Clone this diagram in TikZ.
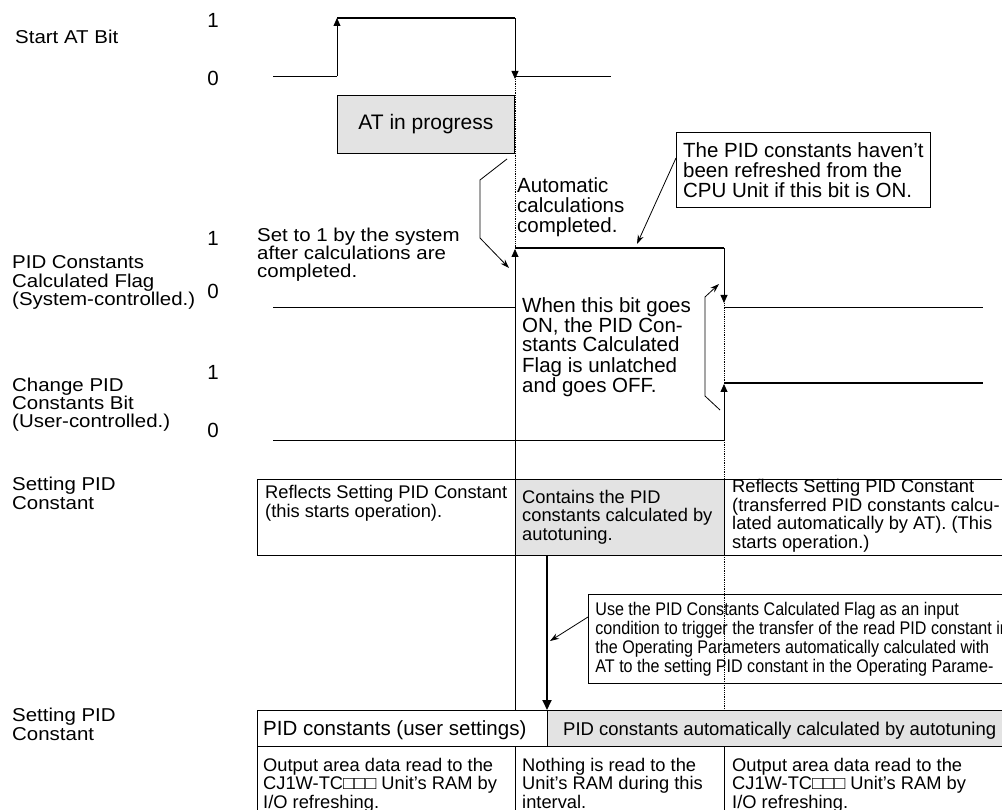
\documentclass[tikz,border=0pt]{standalone}
\usepackage{fontspec}
\setmainfont{Liberation Sans}
\newfontfamily\narrowfont[FakeStretch=0.88]{Liberation Sans}
\newfontfamily\widefont[FakeStretch=1.1]{Liberation Sans}
\usetikzlibrary{arrows.meta}

\begin{document}
\begin{tikzpicture}[x=1pt,y=-1pt,
        lbl/.style={anchor=base west,inner sep=0pt,align=left,font=\fontsize{20.5}{20}\selectfont},
        side/.style={anchor=base west,inner sep=0pt,align=left,font=\widefont\fontsize{18.6}{18.3}\selectfont},
        lvl/.style={anchor=base,inner sep=0pt,font=\fontsize{20.5}{20}\selectfont},
        celltxt/.style={anchor=base west,inner sep=0pt,align=left,font=\fontsize{18.3}{18.5}\selectfont},
        cell/.style={draw,line width=0.8pt},
        busy/.style={fill=black!11},
        sig/.style={line width=0.8pt},
        hi/.style={line width=1.6pt},
        edge/.style={line width=0.8pt,-{Triangle[length=8pt,width=7pt]}},
        note/.style={line width=0.8pt,-{Stealth[length=9pt,width=6pt]}},
        dots/.style={line width=0.8pt,densely dotted}]
    \useasboundingbox (0,0) rectangle (1002,810);

    % setting PID constant cells
    \draw[cell] (257,479) rectangle (515,555);
    \draw[cell,busy] (515,479) rectangle (724,555);
    \draw[cell] (724,479) rectangle (1010,555);
    \draw[cell] (257,710) rectangle (547,746);
    \draw[cell,busy] (547,710) rectangle (1010,746);
    \draw[cell] (257,746) rectangle (515,830);
    \draw[cell] (515,746) rectangle (724,830);
    \draw[cell] (724,746) rectangle (1010,830);

    % signal names and levels (multi-line texts sit on their last line)
    \node[side] (startat) at (15,44) {Start AT Bit};
    \node[side] (calcflag) at (12,305.5) {PID Constants\\Calculated Flag\\(System-controlled.)};
    \node[side] (changebit) at (12,428) {Change PID\\Constants Bit\\(User-controlled.)};
    \node[side] (setpid) at (12,509) {Setting PID\\Constant};
    \node[side] (setpidram) at (12,740) {Setting PID\\Constant};
    \node[lvl] (startone) at (213,28) {1};
    \node[lvl] (startzero) at (213,86) {0};
    \node[lvl] (flagone) at (213,246) {1};
    \node[lvl] (flagzero) at (213,299) {0};
    \node[lvl] (changeone) at (213,380) {1};
    \node[lvl] (changezero) at (213,437) {0};

    % Start AT Bit
    \draw[sig] (273,76) -- (337,76);
    \draw[edge] (337,76) -- (337,18);
    \draw[hi] (337,18) -- (515,18);
    \draw[edge] (515,18) -- (515,79);
    \draw[sig] (515,76) -- (611,76);
    \node[cell,busy,anchor=north west,minimum width=177pt,minimum height=58pt,font=\fontsize{21}{21}\selectfont] (atprog) at (337,95) {AT in progress};
    \draw[dots] (515,79) -- (515,248);

    % PID Constants Calculated Flag
    \draw[sig] (273,307) -- (515,307);
    \draw[sig] (515,710) -- (515,300);
    \draw[edge] (515,300) -- (515,249);
    \draw[hi] (515,248) -- (724,248);
    \draw[edge] (724,248) -- (724,303);
    \draw[sig] (724,307) -- (983,307);
    \draw[dots] (724,303) -- (724,383);

    % Change PID Constants Bit
    \draw[sig] (273,440) -- (724,440);
    \draw[edge] (724,440) -- (724,384);
    \draw[hi] (724,383) -- (983,383);
    \draw[dots] (724,440) -- (724,710);

    % notes
    \node[side] (setone) at (257,278) {Set to 1 by the system\\after calculations are\\completed.};
    \node[lbl] (autodone) at (517,233) {Automatic\\calculations\\completed.};
    \node[lbl] (unlatch) at (522,392) {When this bit goes\\ON, the PID Con-\\stants Calculated\\Flag is unlatched\\and goes OFF.};
    \draw[note] (507,159) -- (480,180) -- (480,238) -- (509,268);
    \draw[note] (720,410) -- (705,396) -- (705,297) -- (719,284);

    \node[draw,line width=0.8pt,anchor=north west,minimum width=254pt,minimum height=75pt,inner sep=3pt,align=left,font=\fontsize{20.5}{20}\selectfont] (norefresh) at (676,132) {The PID constants haven't\\been refreshed from the\\CPU Unit if this bit is ON.};
    \coordinate (flagtop) at (637,244);
    \draw[note] ([yshift=-26pt]norefresh.north west) -- (flagtop);

    % cell texts
    \node[celltxt] (reflect) at (265,517) {Reflects Setting PID Constant\\(this starts operation).};
    \node[celltxt] (contains) at (522,540) {Contains the PID\\constants calculated by\\autotuning.};
    \node[celltxt] (reflectat) at (732,548) {Reflects Setting PID Constant\\(transferred PID constants calcu-\\lated automatically by AT). (This\\starts operation.)};

    \draw[line width=1.8pt,-{Triangle[length=10pt,width=9pt]}] (547,555) -- (547,710);
    \node[draw,line width=0.8pt,anchor=north west,minimum height=89pt,inner xsep=7pt,align=left,font=\narrowfont\fontsize{18.3}{19}\selectfont] (trigger) at (588,594) {Use the PID Constants Calculated Flag as an input\\condition to trigger the transfer of the read PID constant in\\the Operating Parameters automatically calculated with\\AT to the setting PID constant in the Operating Parame-};
    \coordinate (pidarrow) at (550,641);
    \draw[note] ([yshift=-23pt]trigger.north west) -- (pidarrow);

    \node[lbl] (usr) at (263,735) {PID constants (user settings)};
    \node[celltxt,font=\fontsize{18.5}{18.5}\selectfont] (autoset) at (563,735) {PID constants automatically calculated by autotuning};
    \node[celltxt] (readio) at (263,808) {Output area data read to the\\CJ1W-TC□□□ Unit's RAM by\\I/O refreshing.};
    \node[celltxt] (nothing) at (522,808) {Nothing is read to the\\Unit's RAM during this\\interval.};
    \node[celltxt] (readioat) at (732,808) {Output area data read to the\\CJ1W-TC□□□ Unit's RAM by\\I/O refreshing.};
\end{tikzpicture}
\end{document}
